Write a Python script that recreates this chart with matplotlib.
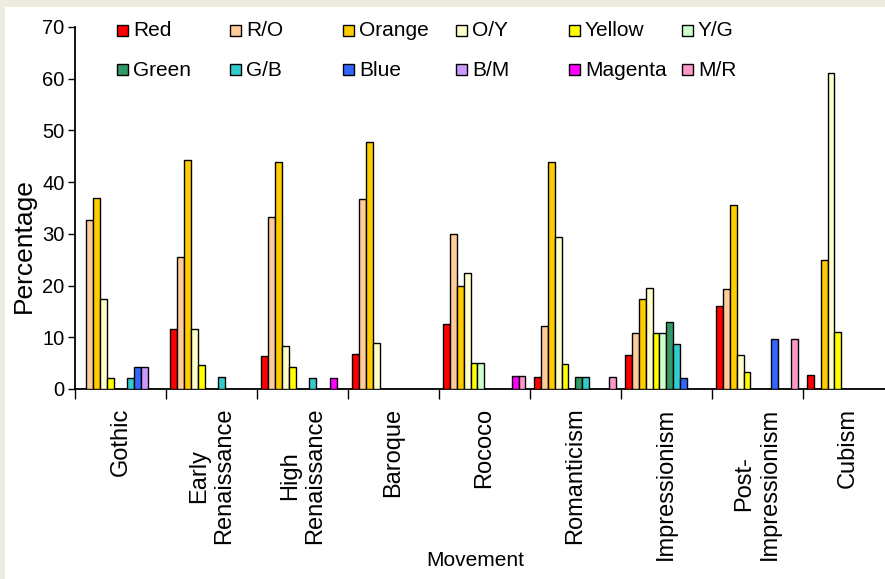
import numpy as np
import matplotlib.pyplot as plt
from matplotlib.patches import Rectangle

plt.rcParams['font.family'] = ['Liberation Sans', 'DejaVu Sans']

movements = ['Gothic', 'Early\nRenaissance', 'High\nRenaissance', 'Baroque', 'Rococo',
             'Romanticism', 'Impressionism', 'Post-\nImpressionism', 'Cubism']

# percentage of each hue per movement
red     = [0, 11.6, 6.3, 6.7, 12.5, 2.4, 6.5, 16.1, 2.8]
r_o     = [32.6, 25.6, 33.3, 36.7, 30.0, 12.2, 10.9, 19.4, 0]
orange  = [37.0, 44.2, 43.8, 47.8, 20.0, 43.9, 17.4, 35.5, 25.0]
o_y     = [17.4, 11.6, 8.3, 8.8, 22.5, 29.3, 19.6, 6.5, 61.1]
yellow  = [2.2, 4.7, 4.2, 0, 5.0, 4.9, 10.9, 3.2, 11.1]
y_g     = [0, 0, 0, 0, 5.0, 0, 10.9, 0, 0]
green   = [0, 0, 0, 0, 0, 2.4, 13.0, 0, 0]
g_b     = [2.2, 2.3, 2.1, 0, 0, 2.4, 8.7, 0, 0]
blue    = [4.3, 0, 0, 0, 0, 0, 2.2, 9.7, 0]
b_m     = [4.3, 0, 0, 0, 0, 0, 0, 0, 0]
magenta = [0, 0, 2.1, 0, 2.5, 0, 0, 0, 0]
m_r     = [0, 0, 0, 0, 2.5, 2.4, 0, 9.7, 0]

series = [red, r_o, orange, o_y, yellow, y_g, green, g_b, blue, b_m, magenta, m_r]
names = ['Red', 'R/O', 'Orange', 'O/Y', 'Yellow', 'Y/G',
         'Green', 'G/B', 'Blue', 'B/M', 'Magenta', 'M/R']
colors = ['#FF0000', '#FFCC99', '#FFCC00', '#FFFFCC', '#FFFF00', '#CCFFCC',
          '#339966', '#33CCCC', '#3366FF', '#CC99FF', '#FF00FF', '#FF99CC']

W, H = 885, 579
fig = plt.figure(figsize=(W / 100, H / 100), dpi=100, facecolor='#EEEBE1')
fig.patches.append(Rectangle((5 / W, 0), 1, 1 - 7 / H, transform=fig.transFigure,
                             facecolor='white', edgecolor='none', zorder=-5))

ax_left, ax_right = 75, 75 + 9 * 90.96
ax_top, ax_bot = 27, 389
ax = fig.add_axes([ax_left / W, 1 - ax_bot / H, (ax_right - ax_left) / W, (ax_bot - ax_top) / H])
ax.patch.set_alpha(0)

x = np.arange(len(movements))
bw = 1 / 13.3
for i, vals in enumerate(series):
    ax.bar(x + (i - 5.5) * bw, vals, bw, color=colors[i], edgecolor='black', linewidth=1.0, zorder=3)

ax.set_xlim(-0.5, len(movements) - 0.5)
ax.set_ylim(0, 70)
ax.set_yticks(range(0, 71, 10))
ax.tick_params(axis='y', direction='out', length=5, width=1.0, pad=2.5, labelsize=14.5)

ax.set_xticks(np.arange(-0.5, len(movements), 1.0))
ax.set_xticklabels([])
ax.tick_params(axis='x', which='major', direction='out', length=7, width=1.0)
ax.set_xticks(x, minor=True)
ax.set_xticklabels(movements, minor=True, rotation=90, fontsize=17)
ax.tick_params(axis='x', which='minor', length=0, pad=13.5)

for s in ['top', 'right']:
    ax.spines[s].set_visible(False)
for s in ['left', 'bottom']:
    ax.spines[s].set_linewidth(1.3)

fig.text(475 / W, 1 - 561 / H, 'Movement', ha='center', va='center', fontsize=15)
fig.text(24 / W, 1 - 246 / H, 'Percentage', ha='center', va='center', rotation=90, fontsize=19)

# legend, two rows of six
col_x = [117, 230, 343, 456, 569, 682]
row_y = [30, 70]
sq = 11
for i, name in enumerate(names):
    cx = col_x[i % 6]
    cy = row_y[i // 6]
    fig.patches.append(Rectangle((cx / W, 1 - (cy + sq / 2) / H), sq / W, sq / H,
                                 transform=fig.transFigure, facecolor=colors[i],
                                 edgecolor='black', linewidth=1.0, zorder=5))
    fig.text((cx + sq + 5) / W, 1 - cy / H, name, ha='left', va='center', fontsize=15)

fig.savefig('out.png', dpi=100, facecolor=fig.get_facecolor())
